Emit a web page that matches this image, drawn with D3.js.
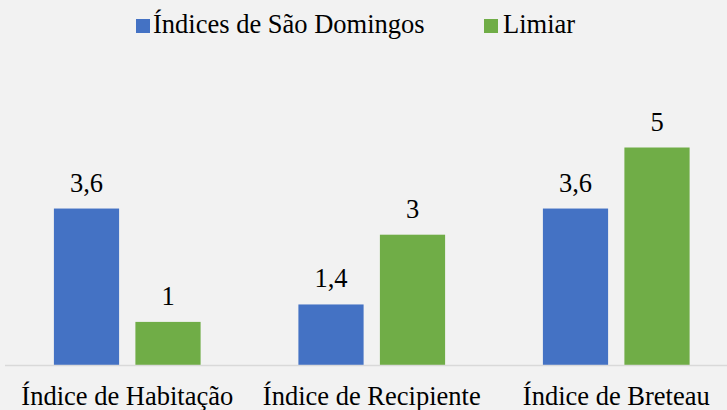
<!DOCTYPE html>
<html>
<head>
<meta charset="utf-8">
<script src="https://cdn.jsdelivr.net/npm/d3@7"></script>
</head>
<body style="margin:0;padding:0;background:#F2F2F2">
<div id="root"></div>
<script>
const categories = ["Índice de Habitação", "Índice de Recipiente", "Índice de Breteau"];
const seriesNames = ["Índices de São Domingos", "Limiar"];
const saoDomingos = [3.6, 1.4, 3.6];
const limiar = [1, 3, 5];
const valueLabels = [["3,6", "1,4", "3,6"], ["1", "3", "5"]];
const colors = ["#4472C4", "#70AD47"];

const FONT = "Times New Roman";
const W = 727, H = 410;
const svg = d3.select("#root").append("svg")
  .attr("width", W).attr("height", H)
  .style("display", "block")
  .attr("font-family", FONT);
svg.append("rect").attr("width", W).attr("height", H).attr("fill", "#F2F2F2");

const baseY = 365.5;
const x0 = d3.scaleBand().domain(categories).range([5, 738.5]).padding(0);
const x1 = d3.scaleBand().domain(seriesNames).range([0, x0.bandwidth()])
  .paddingInner(0.2).paddingOuter(0.6);
const y = d3.scaleLinear().domain([0, 6]).range([baseY, baseY - 6 * 43.6]);

const data = categories.map((c, i) => ({
  cat: c,
  vals: [
    { s: seriesNames[0], v: saoDomingos[i], label: valueLabels[0][i], color: colors[0] },
    { s: seriesNames[1], v: limiar[i], label: valueLabels[1][i], color: colors[1] }
  ]
}));

const groups = svg.selectAll("g.grp").data(data).join("g")
  .attr("class", "grp")
  .attr("transform", d => `translate(${x0(d.cat)},0)`);

groups.selectAll("rect").data(d => d.vals).join("rect")
  .attr("x", d => x1(d.s))
  .attr("width", x1.bandwidth())
  .attr("y", d => y(d.v))
  .attr("height", d => baseY - y(d.v))
  .attr("fill", d => d.color);

groups.selectAll("text.val").data(d => d.vals).join("text")
  .attr("class", "val")
  .attr("x", d => x1(d.s) + x1.bandwidth() / 2)
  .attr("y", d => y(d.v) - 17)
  .attr("text-anchor", "middle")
  .attr("font-family", FONT)
  .attr("font-size", 26.5)
  .attr("fill", "#000")
  .text(d => d.label);

// baseline and category labels
const xAxis = d3.axisBottom(x0).tickSize(0).tickPadding(0);
const axisG = svg.append("g").attr("transform", `translate(0,${baseY})`).call(xAxis);
axisG.attr("font-family", FONT).attr("font-size", 26.5);
axisG.select(".domain").attr("stroke", "#D9D9D9").attr("stroke-width", 1.3)
  .attr("d", `M5,0H727`);
axisG.selectAll(".tick text")
  .attr("y", 39.5)
  .attr("dy", 0)
  .attr("font-family", FONT)
  .attr("font-size", 26.5)
  .attr("fill", "#000");

// legend
const legend = svg.append("g");
const items = [
  { name: seriesNames[0], color: colors[0], sx: 136, tx: 153 },
  { name: seriesNames[1], color: colors[1], sx: 484, tx: 503 }
];
items.forEach(it => {
  legend.append("rect").attr("x", it.sx).attr("y", 19).attr("width", 14).attr("height", 14).attr("fill", it.color);
  legend.append("text").attr("x", it.tx).attr("y", 33)
    .attr("font-family", FONT).attr("font-size", 26.5).attr("fill", "#000").text(it.name);
});
</script>
</body>
</html>
